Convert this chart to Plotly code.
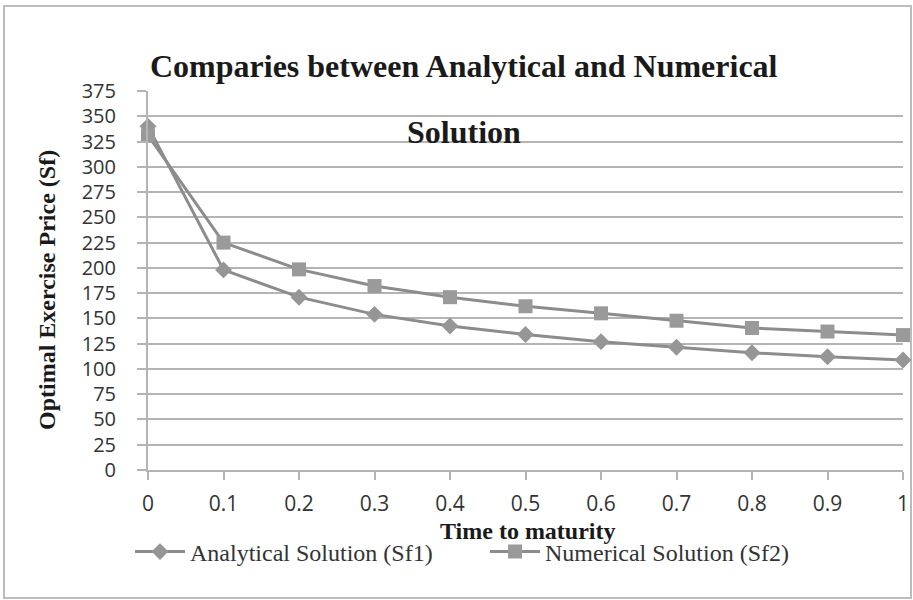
import plotly.graph_objects as go

times = [0, 0.1, 0.2, 0.3, 0.4, 0.5, 0.6, 0.7, 0.8, 0.9, 1.0]
tick_labels = ["0", "0.1", "0.2", "0.3", "0.4", "0.5", "0.6", "0.7", "0.8", "0.9", "1"]
analytical = [340, 198, 171, 154, 142.5, 134, 127, 121.5, 116, 112, 108.8]
numerical = [331, 225, 198.5, 182, 171, 162, 155, 147.7, 140.5, 137, 133.5]
y_ticks = list(range(0, 376, 25))

W, H = 913, 600
L, R, T, B = 148, 10, 91, 130
PW, PH = W - L - R, H - T - B


def px(x):
    return (x - L) / PW


def py(y):
    return (H - B - y) / PH


line_col = "#8c8c8c"
grid_col = "#b4b4b4"
serif = "Liberation Serif, Times New Roman, serif"
sans = "Open Sans, sans-serif"

fig = go.Figure()
fig.add_trace(go.Scatter(
    x=times, y=analytical, mode="lines+markers", name="Analytical Solution (Sf1)",
    line=dict(color=line_col, width=3),
    marker=dict(symbol="diamond", size=13, color="#969696"),
    cliponaxis=False,
))
fig.add_trace(go.Scatter(
    x=times, y=numerical, mode="lines+markers", name="Numerical Solution (Sf2)",
    line=dict(color=line_col, width=3),
    marker=dict(symbol="square", size=14, color="#9a9a9a"),
    cliponaxis=False,
))

fig.update_layout(
    width=W, height=H,
    margin=dict(l=L, r=R, t=T, b=B, autoexpand=False),
    paper_bgcolor="white", plot_bgcolor="white",
    showlegend=True,
    legend=dict(orientation="h", x=px(130), y=py(552), xanchor="left", yanchor="middle",
                font=dict(family=serif, size=24, color="#333333"),
                itemwidth=50, entrywidth=290, tracegroupgap=0, bgcolor="rgba(0,0,0,0)"),
    xaxis=dict(range=[0, 1], tickmode="array", tickvals=times, ticktext=tick_labels,
               showgrid=False, zeroline=False, showline=True, linecolor=grid_col, linewidth=2,
               ticks="outside", ticklen=8, tickwidth=2, tickcolor=grid_col,
               tickfont=dict(family=sans, size=21, color="#333333"),
               ticklabelstandoff=6, ticklabeloverflow="allow"),
    yaxis=dict(range=[0, 375], tickmode="array", tickvals=y_ticks,
               showgrid=True, gridcolor=grid_col, gridwidth=2, zeroline=False,
               showline=True, linecolor=grid_col, linewidth=2,
               ticks="outside", ticklen=9, tickwidth=2, tickcolor=grid_col,
               tickfont=dict(family=sans, size=20, color="#333333"),
               ticklabelstandoff=17, ticklabeloverflow="allow"),
    shapes=[dict(type="rect", xref="paper", yref="paper",
                 x0=px(4), x1=px(911), y0=py(598), y1=py(6),
                 line=dict(color="#bcbcbc", width=2), layer="below")],
    annotations=[
        dict(text="<b>Comparies between Analytical and Numerical</b>", xref="paper", yref="paper",
             x=px(464), y=py(66), xanchor="center", yanchor="middle", showarrow=False,
             font=dict(family=serif, size=32, color="#1a1a1a")),
        dict(text="<b>Solution</b>", xref="paper", yref="paper",
             x=px(464), y=py(132), xanchor="center", yanchor="middle", showarrow=False,
             font=dict(family=serif, size=32, color="#1a1a1a")),
        dict(text="<b>Optimal Exercise Price (Sf)</b>", xref="paper", yref="paper",
             x=px(47), y=py(290), xanchor="center", yanchor="middle", showarrow=False,
             textangle=-90, font=dict(family=serif, size=24, color="#1a1a1a")),
        dict(text="<b>Time to maturity</b>", xref="paper", yref="paper",
             x=px(528), y=py(531), xanchor="center", yanchor="middle", showarrow=False,
             font=dict(family=serif, size=24, color="#1a1a1a")),
    ],
)

fig.write_html("out.html")
